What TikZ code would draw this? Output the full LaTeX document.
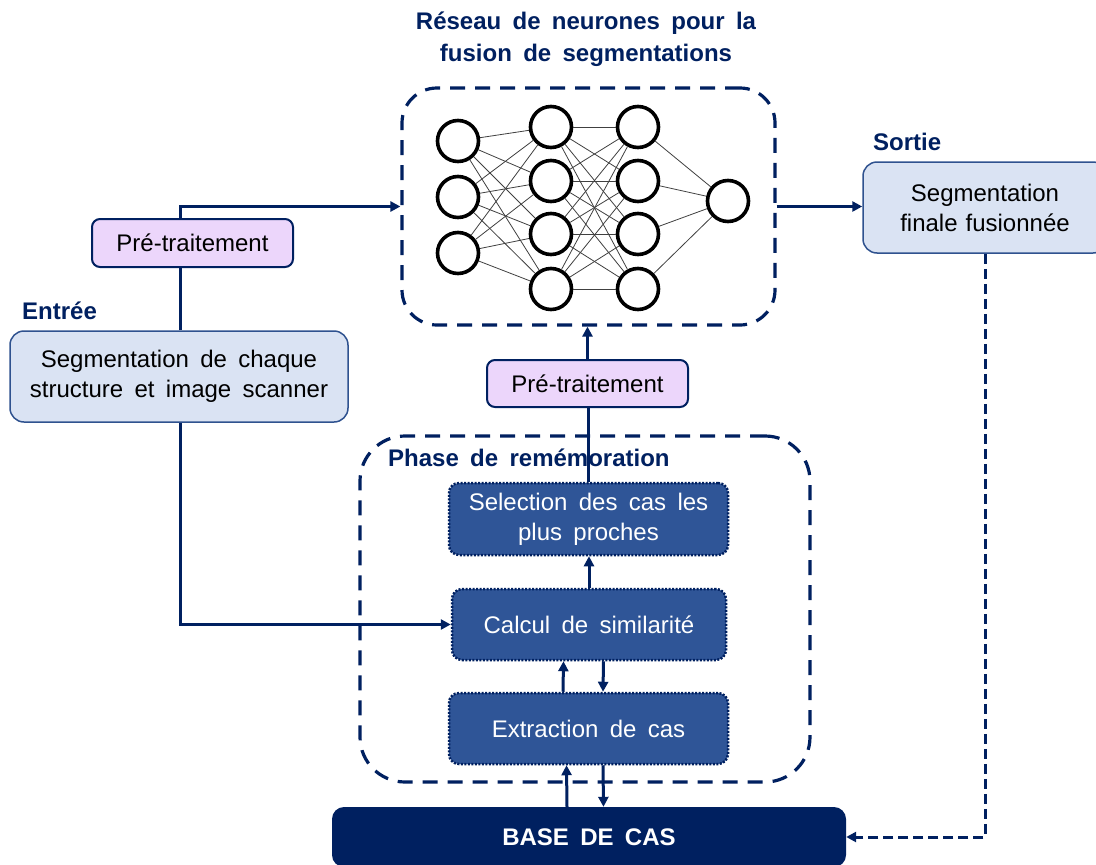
\documentclass[tikz,border=0pt]{standalone}
\usepackage{fontspec}
\setmainfont{Liberation Sans}[WordSpace=1.7]
\usetikzlibrary{arrows.meta,calc}
\definecolor{navy}{HTML}{002060}
\definecolor{lblue}{HTML}{DAE3F3}
\definecolor{lpurple}{HTML}{ECD6FB}
\definecolor{mblue}{HTML}{2F5597}
\definecolor{bord}{HTML}{2F528F}
\begin{document}
\begin{tikzpicture}[x=1pt,y=-1pt,
  body/.style={font=\fontsize{24}{30}\selectfont},
  lbl/.style={font=\fontsize{24}{32}\selectfont\bfseries, text=navy, inner sep=0pt},
  lbox/.style={body, draw=bord, line width=1.5pt, rounded corners=14pt, fill=lblue, align=center, inner sep=0pt},
  pbox/.style={body, draw=navy, line width=2pt, rounded corners=8pt, fill=lpurple, align=center, inner sep=0pt},
  dbox/.style={body, draw=navy, line width=2.5pt, dash pattern=on 2pt off 1.5pt, rounded corners=10pt, fill=mblue, text=white, align=center, inner sep=0pt},
  grp/.style={draw=navy, line width=3.2pt, dash pattern=on 15pt off 10pt, inner sep=0pt},
  neuron/.style={circle, draw=black, line width=3.6pt, minimum size=41pt, inner sep=0pt, fill=white},
  nnline/.style={draw=black!75, line width=0.8pt},
  conn/.style={draw=navy, line width=3pt},
  arr/.style={conn, -{Triangle[length=10pt,width=10pt]}},
  darr/.style={draw=navy, line width=3pt, dash pattern=on 10pt off 5pt, -{Triangle[length=10pt,width=10pt]}}
]
\clip (0,0) rectangle (1096,865);
\fill[white] (0,0) rectangle (1096,865);

% group boxes
\node[grp, rounded corners=35pt, minimum width=373pt, minimum height=237pt] (nn) at (588.5,206.5) {};
\node[grp, rounded corners=45pt, minimum width=450pt, minimum height=346pt] (phase) at (585,609) {};

% labels
\node[lbl, align=center] (title) at (586,39) {Réseau de neurones pour la\\fusion de segmentations};
\node[lbl, anchor=west] (sortieL) at (873,142) {Sortie};
\node[lbl, anchor=west] (entreeL) at (22,311) {Entrée};
\node[lbl, anchor=west] (phaseL) at (388,458) {Phase de remémoration};

% neural network
\foreach \i/\y in {1/141,2/197,3/253} \node[neuron] (a\i) at (458,\y) {};
\foreach \i/\y in {1/127,2/181,3/234,4/289} \node[neuron] (b\i) at (551,\y) {};
\foreach \i/\y in {1/127,2/181,3/234,4/289} \node[neuron] (c\i) at (638,\y) {};
\node[neuron] (o) at (728,201) {};
\foreach \i in {1,2,3} \foreach \j in {1,...,4} \draw[nnline] (a\i) -- (b\j);
\foreach \i in {1,...,4} \foreach \j in {1,...,4} \draw[nnline] (b\i) -- (c\j);
\foreach \i in {1,...,4} \draw[nnline] (c\i) -- (o);

% boxes
\node[pbox, minimum width=201pt, minimum height=48pt] (preL) at (192.5,243) {Pré-traitement};
\node[lbox, minimum width=338pt, minimum height=91pt] (seg) at (179,376.5) {Segmentation de chaque\\structure et image scanner};
\node[lbox, minimum width=244pt, minimum height=91pt, text width=244pt] (sortie) at (985,207.5) {Segmentation\\finale fusionnée};
\node[pbox, minimum width=201pt, minimum height=47pt] (preM) at (587.5,383.5) {Pré-traitement};
\node[dbox, minimum width=279pt, minimum height=72pt] (sel) at (588.5,519) {Selection des cas les\\plus proches};
\node[dbox, minimum width=274pt, minimum height=71pt] (calc) at (589,624.5) {Calcul de similarité};
\node[dbox, minimum width=279pt, minimum height=71pt] (extr) at (588.5,728.5) {Extraction de cas};
\node[fill=navy, rounded corners=12pt, minimum width=514pt, minimum height=60pt, text=white, font=\fontsize{24}{30}\selectfont\bfseries, inner sep=0pt] (base) at (589,837) {BASE DE CAS};

% connectors
\draw[conn] (seg.north -| 180,0) -- (preL.south -| 180,0);
\draw[arr] (preL.north -| 180,0) |- (nn.west);
\draw[arr] (seg.south -| 180,0) |- (calc.west);
\draw[arr] (nn.east) -- (nn.east -| sortie.west);
\draw[darr] (sortie.south) |- (base.east);
\draw[conn] (sel.north) -- (sel.north |- preM.south);
\draw[arr] (preM.north) -- (preM.north |- nn.south);
\draw[arr] (calc.north) -- (calc.north |- sel.south);
\draw[arr] ($(extr.north)+(-25.5,0)$) -- ($(calc.south)+(-25.5,0)$);
\draw[arr] ($(calc.south)+(14.5,0)$) -- ($(extr.north)+(14.5,0)$);
\draw[arr] ($(base.north)+(-22,0)$) -- ($(extr.south)+(-22,0)$);
\draw[arr] ($(extr.south)+(14.5,0)$) -- ($(base.north)+(14.5,0)$);
\end{tikzpicture}
\end{document}
